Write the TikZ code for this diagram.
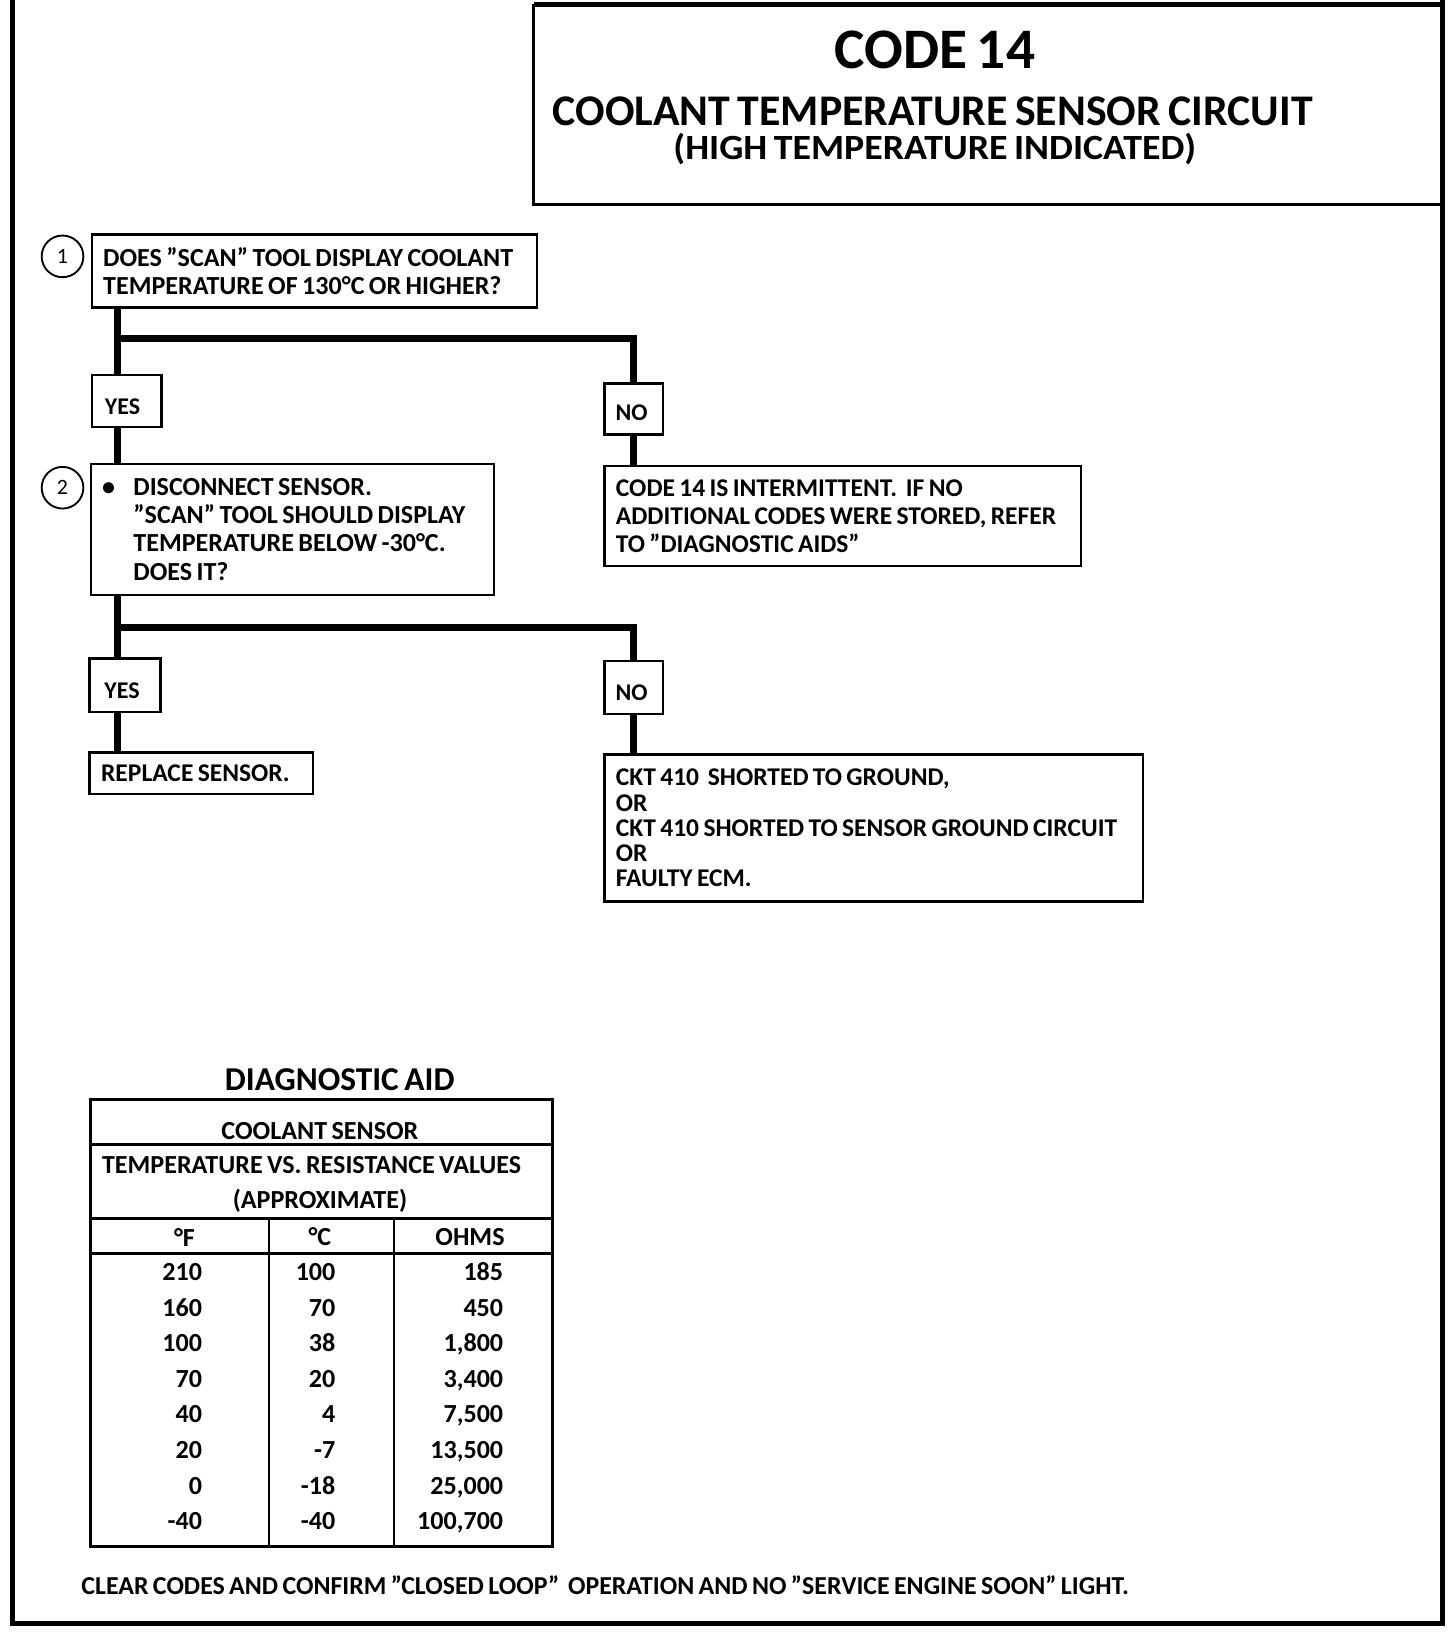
\documentclass[tikz,border=0pt]{standalone}
\usepackage{fontspec}
\setmainfont{Carlito}[WordSpace=0.75]
\newcommand\resetsp{\spaceskip=0pt\relax\xspaceskip=0pt\relax}
\usetikzlibrary{calc}
\tikzset{
 box/.style={draw, line width=2.2pt, inner xsep=11pt, inner ysep=0pt, align=left, font=\bfseries\fontsize{24.5}{27}\selectfont},
 lab/.style={draw, line width=2.2pt, inner sep=0pt},
 labtxt/.style={inner sep=0pt, font=\bfseries\fontsize{23}{23}\selectfont},
 conn/.style={line width=7pt},
 frameline/.style={line width=5pt},
 tline/.style={line width=2.5pt},
 num/.style={circle, draw, line width=1.8pt, minimum size=40pt, inner sep=0pt, font=\fontsize{21}{21}\selectfont},
 txt/.style={font=\bfseries\fontsize{25}{27}\selectfont, inner sep=0pt},
 ttl/.style={inner sep=0pt, anchor=base},
}
\begin{document}
\begin{tikzpicture}[x=1pt,y=-1pt]
\useasboundingbox (0,0) rectangle (1397,1566);
% frame
\draw[frameline] (12,0) -- (12,1558) -- (1384,1558) -- (1384,0);
\draw[frameline] (512,4) -- (1384,4);
\draw[tline] (512,4) -- (512,196) -- (1384,196);
\node[ttl, font=\bfseries\fontsize{55}{55}\selectfont] (t1) at (897,66) {CODE 14};
\node[ttl, font=\bfseries\fontsize{42}{42}\selectfont] (t2) at (895,120) {COOLANT TEMPERATURE SENSOR CIRCUIT};
\node[ttl, font=\bfseries\fontsize{34}{34}\selectfont] (t3) at (897,153) {\scalebox{1.07}[1]{(HIGH TEMPERATURE INDICATED)}};
% step 1
\node[num] (n1) at (60,246) {1};
\node[box, minimum width=427pt, minimum height=70pt, text width=405pt, font=\bfseries\fontsize{25}{27}\selectfont] (b1) at (301.5,260)
 {\resetsp DOES "SCAN" TOOL DISPLAY COOLANT\\TEMPERATURE OF 130°C OR HIGHER?};
\node[lab, minimum width=67pt, minimum height=50pt] (yes1) at (121.5,385) {};
\node[labtxt] (yes1t) at ($(yes1.center)+(-4,5)$) {YES};
\node[lab, minimum width=56pt, minimum height=49pt] (no1) at (608,392.5) {};
\node[labtxt] (no1t) at ($(no1.center)+(-2,3.5)$) {NO};
\draw[conn] ($(b1.south west)+(26,0)$) -- ($(yes1.north west)+(26,0)$);
\draw[conn] ($(b1.south west)+(26,29)$) -| (no1.north);
% step 2
\node[num] (n2) at (60,468) {2};
\node[box, minimum width=387pt, minimum height=126pt, text width=365pt, font=\bfseries\fontsize{25}{27}\selectfont] (b2) at (280.5,508)
 {\resetsp\makebox[30pt][l]{•}DISCONNECT SENSOR.\\\hspace*{30pt}"SCAN" TOOL SHOULD DISPLAY\\\hspace*{30pt}TEMPERATURE BELOW -30°C.\\\hspace*{30pt}DOES IT?};
\node[box, minimum width=457pt, minimum height=96pt, text width=435pt] (b3) at (808.5,495)
 {\resetsp CODE 14 IS INTERMITTENT.\ \ IF NO\\ADDITIONAL CODES WERE STORED, REFER\\TO "DIAGNOSTIC AIDS"};
\draw[conn] ($(yes1.south west)+(26,0)$) -- ($(b2.north west)+(27,0)$);
\draw[conn] (no1.south) -- (no1.south |- b3.north);
\node[lab, minimum width=68pt, minimum height=51pt] (yes2) at (120,657.5) {};
\node[labtxt] (yes2t) at ($(yes2.center)+(-3,5)$) {YES};
\node[lab, minimum width=56pt, minimum height=51pt] (no2) at (608,659.5) {};
\node[labtxt] (no2t) at ($(no2.center)+(-2,5)$) {NO};
\draw[conn] ($(b2.south west)+(27,0)$) -- ($(yes2.north west)+(28,0)$);
\draw[conn] ($(b2.south west)+(27,30)$) -| (no2.north);
\node[box, minimum width=214pt, minimum height=40pt, text width=192pt] (b4) at (193,742) {\resetsp REPLACE SENSOR.};
\node[box, minimum width=517pt, minimum height=141pt, text width=495pt, font=\bfseries\fontsize{24.5}{24.2}\selectfont] (b5) at (838.5,794.5)
 {\resetsp CKT 410\ \ SHORTED TO GROUND,\\OR\\CKT 410 SHORTED TO SENSOR GROUND CIRCUIT\\OR\\FAULTY ECM.};
\draw[conn] ($(yes2.south west)+(28,0)$) -- ($(b4.north west)+(28,0)$);
\draw[conn] (no2.south) -- (no2.south |- b5.north);
% diagnostic aid
\node[font=\bfseries\fontsize{32}{32}\selectfont, inner sep=0pt] (da) at (326,1036) {DIAGNOSTIC AID};
\draw[tline] (87,1055) rectangle (530,1484);
\draw[tline] (87,1098) -- (530,1098);
\draw[tline] (87,1169) -- (530,1169);
\draw[tline] (87,1203) -- (530,1203);
\draw[tline] (258,1169) -- (258,1484);
\draw[tline] (378,1169) -- (378,1484);
\node[txt] (h1) at (307,1085) {COOLANT SENSOR};
\node[txt] (h2) at (299,1118) {TEMPERATURE VS. RESISTANCE VALUES};
\node[txt] (h3) at (307,1152) {(APPROXIMATE)};
\node[txt] (cf) at (177,1187) {°F};
\node[txt] (cc) at (307,1187) {°C};
\node[txt] (co) at (451,1187) {OHMS};
\foreach \f/\c/\o [count=\i from 0] in {210/100/185,160/70/450,100/38/{1,800},70/20/{3,400},40/4/{7,500},20/-7/{13,500},0/-18/{25,000},-40/-40/{100,700}}{
 \node[txt, anchor=base east] (f\i) at (194,1229+34.1*\i) {\f};
 \node[txt, anchor=base east] (c\i) at (322,1229+34.1*\i) {\c};
 \node[txt, anchor=base east] (o\i) at (483,1229+34.1*\i) {\o};
}
\node[txt, anchor=west, font=\bfseries\fontsize{24.8}{25}\selectfont] (foot) at (78,1521)
 {CLEAR CODES AND CONFIRM "CLOSED LOOP"\ \ OPERATION AND NO "SERVICE ENGINE SOON" LIGHT.};
\end{tikzpicture}
\end{document}
